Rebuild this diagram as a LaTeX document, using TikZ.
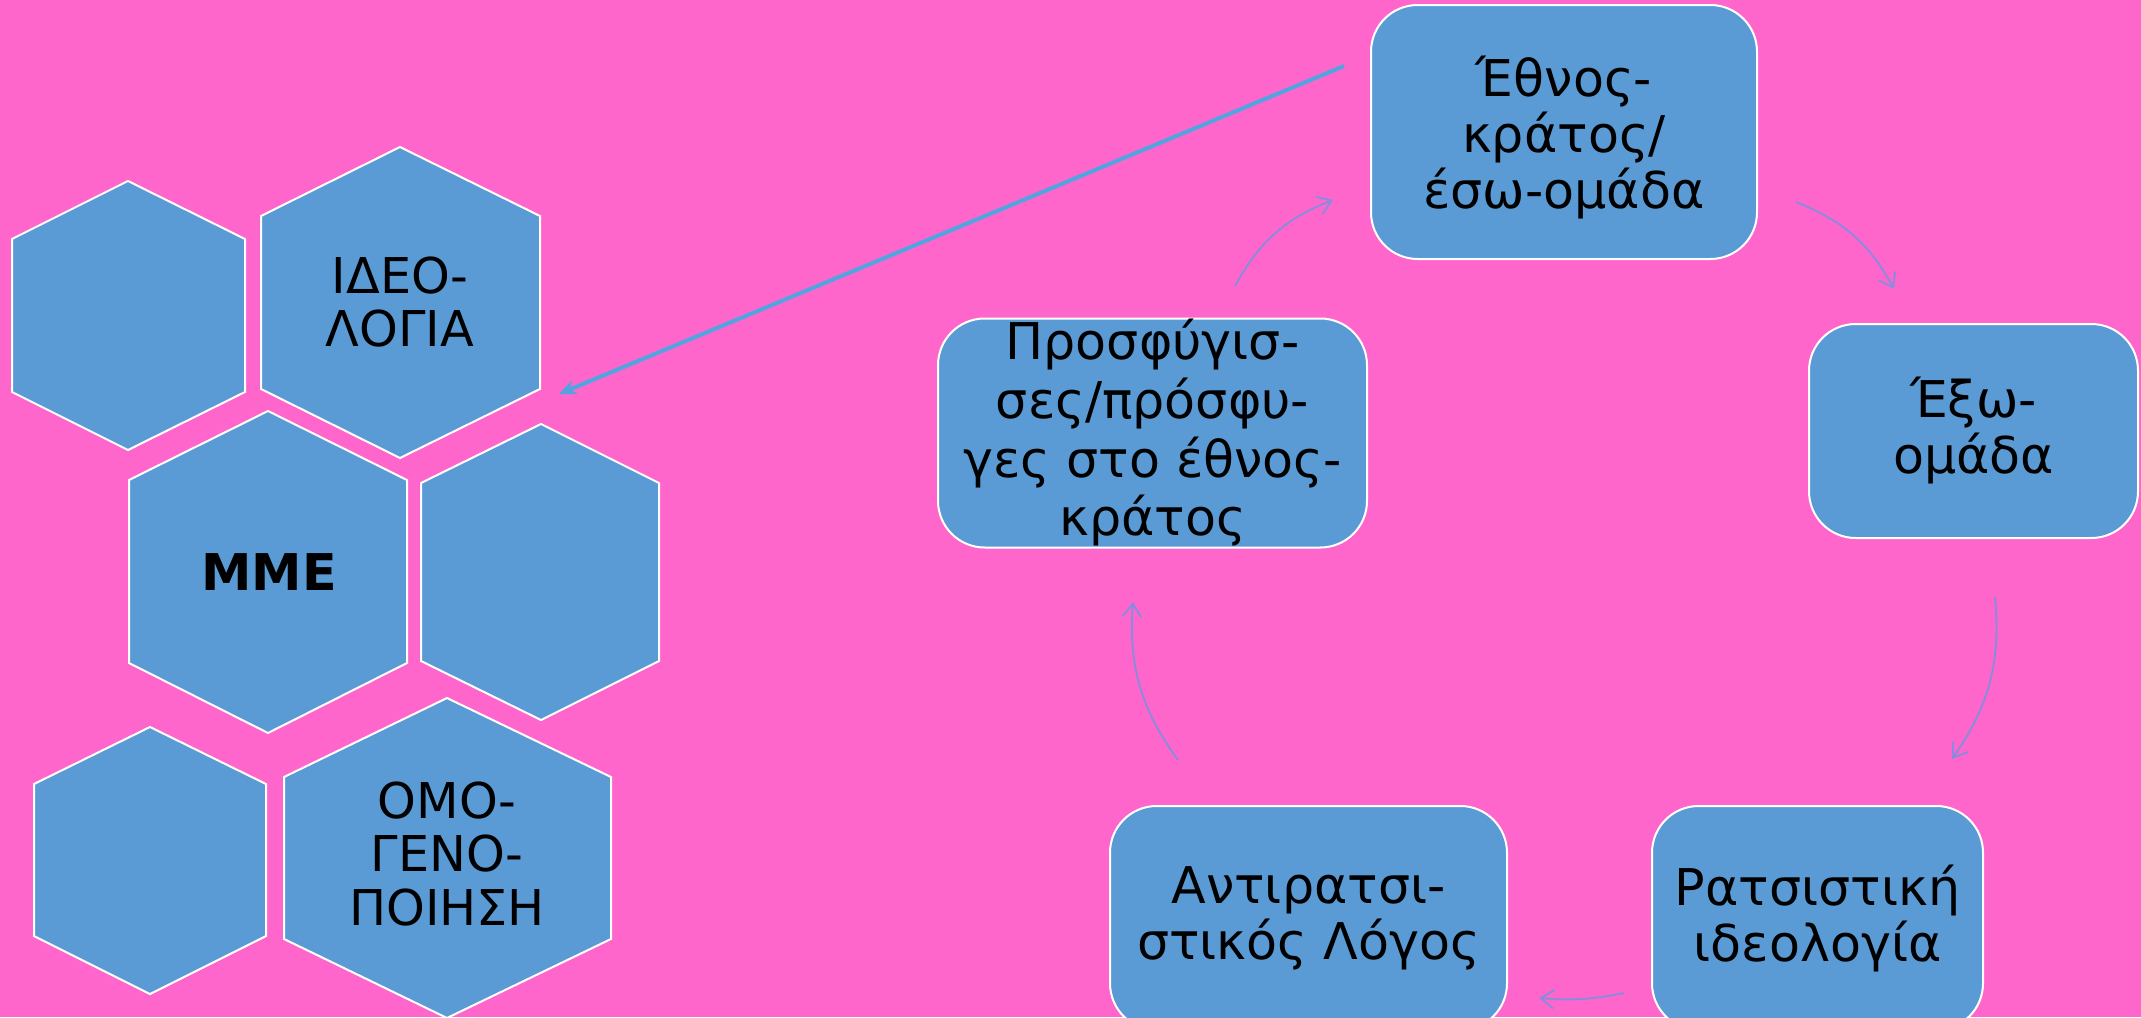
\documentclass[tikz,border=0pt]{standalone}
\usepackage{fontspec}
\setmainfont{DejaVu Sans}
\usetikzlibrary{arrows.meta}
\definecolor{bg}{RGB}{255,102,204}
\definecolor{boxblue}{RGB}{91,155,213}
\definecolor{cyc}{RGB}{135,140,220}
\definecolor{bigarr}{RGB}{80,165,225}
\begin{document}
\begin{tikzpicture}[x=0.75pt,y=-0.75pt,
  hex/.style={fill=boxblue,draw=white,line width=1.5pt,line join=miter},
  rbox/.style={fill=boxblue,draw=white,line width=1.5pt,rounded corners=35pt,
    align=center,inner sep=0pt,font=\fontsize{38}{42}\selectfont,text=black},
  lbl/.style={align=center,inner sep=0pt,font=\fontsize{37}{40}\selectfont,text=black},
  boxtext/.style={align=center,inner sep=0pt,font=\fontsize{38}{42}\selectfont,text=black},
  cycarrow/.style={draw=cyc,line width=1.4pt,-{Straight Barb[length=10pt,width=14pt]},bend left=20},
  bigarrow/.style={draw=bigarr,line width=3pt,-{Stealth[length=13pt,width=11pt]}}
]
\useasboundingbox (0,0) rectangle (2141,1017);
\clip (0,0) rectangle (2141,1017);
\fill[bg] (0,0) rectangle (2141,1017);

% hexagons
\draw[hex] (128,181) -- (245,239) -- (245,392) -- (128,450) -- (12,392) -- (12,239) -- cycle;
\draw[hex] (400,147) -- (540,216) -- (540,389) -- (400,458) -- (261,389) -- (261,216) -- cycle;
\draw[hex] (268,411) -- (407,480) -- (407,663) -- (268,733) -- (129,663) -- (129,480) -- cycle;
\draw[hex] (541,424) -- (659,483) -- (659,661) -- (541,720) -- (421,661) -- (421,483) -- cycle;
\draw[hex] (150,727) -- (266,784) -- (266,936) -- (150,994) -- (34,936) -- (34,784) -- cycle;
\draw[hex] (447,698) -- (611,777) -- (611,939) -- (447,1018) -- (284,939) -- (284,777) -- cycle;

\node[lbl] (ideo) at (400,302) {ΙΔΕΟ-\\ΛΟΓΙΑ};
\node[lbl,font=\fontsize{38}{40}\bfseries] (mme) at (269,572) {ΜΜΕ};
\node[lbl] (omo) at (447,854) {ΟΜΟ-\\ΓΕΝΟ-\\ΠΟΙΗΣΗ};

% rounded boxes
\node[rbox,minimum width=289.5pt,minimum height=190.5pt] (A) at (1564,132) {};
\node[boxtext] (Atext) at (1564,138) {Έθνος-\\κράτος/\\έσω-ομάδα};
\node[rbox,minimum width=246.75pt,minimum height=160.5pt] (B) at (1973.5,431) {Έξω-\\ομάδα};
\node[rbox,minimum width=321.75pt,minimum height=171.75pt,font=\fontsize{38}{44}\selectfont] (C) at (1152.5,433) {Προσφύγισ-\\σες/πρόσφυ-\\γες στο έθνος-\\κράτος};
\node[rbox,minimum width=248.25pt,minimum height=168pt] (D) at (1817.5,918) {Ρατσιστική\\ιδεολογία};
\node[rbox,minimum width=297.75pt,minimum height=168pt] (E) at (1308.5,918) {Αντιρατσι-\\στικός Λόγος};

% cycle connectors
\coordinate (c1s) at (1796,202); \coordinate (c1e) at (1894,289);
\coordinate (c2s) at (1995,597); \coordinate (c2e) at (1952,759);
\coordinate (c3s) at (1624,993); \coordinate (c3e) at (1539,998);
\coordinate (c4s) at (1178,760); \coordinate (c4e) at (1133,602);
\coordinate (c5s) at (1235,286); \coordinate (c5e) at (1333,200);
\draw[cycarrow] (c1s) to (c1e);
\draw[cycarrow] (c2s) to (c2e);
\draw[cycarrow,bend left=8] (c3s) to (c3e);
\draw[cycarrow] (c4s) to (c4e);
\draw[cycarrow] (c5s) to (c5e);

% big arrow
\coordinate (bs) at (1344,66);
\coordinate (be) at (559,394);
\draw[bigarrow] (bs) -- (be);
\end{tikzpicture}
\end{document}
